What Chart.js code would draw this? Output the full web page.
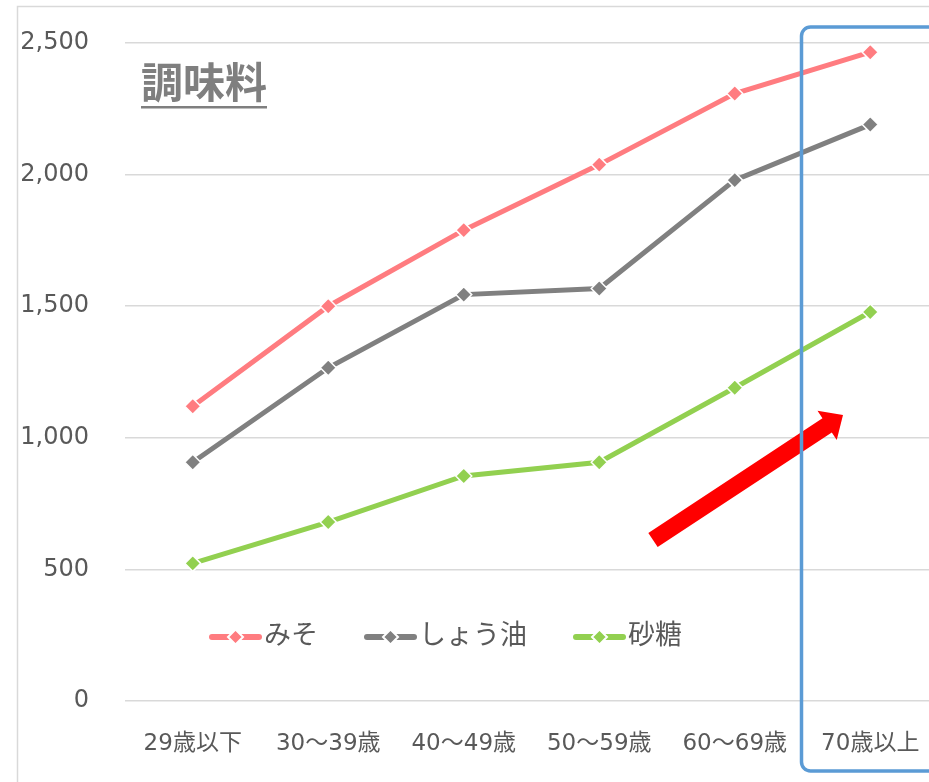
<!DOCTYPE html>
<html>
<head>
<meta charset="utf-8">
<script src="https://cdn.jsdelivr.net/npm/chart.js@4/dist/chart.umd.min.js"></script>
<style>
	html, body { margin: 0; padding: 0; background: #fff; overflow: hidden; }
	#wrap { width: 940px; height: 782px; }
</style>
</head>
<body>
<div id="wrap"><canvas id="chart" width="940" height="782"></canvas></div>
<script>
	var labels = ['29歳以下', '30～39歳', '40～49歳', '50～59歳', '60～69歳', '70歳以上'];
	var seriesNames = ['みそ', 'しょう油', '砂糖'];
	var miso = [1120, 1500, 1789, 2038, 2308, 2465];
	var shoyu = [907, 1266, 1544, 1567, 1979, 2190];
	var sugar = [523, 680, 855, 907, 1190, 1478];
	var colors = ['#FF7C80', '#808080', '#92D050'];
	var yTicks = [0, 500, 1000, 1500, 2000, 2500];

	var fontFamily = "'DejaVu Sans', 'Noto Sans CJK JP', sans-serif";
	var textColor = '#595959';

	function makeSet(name, values, color) {
		return {
			label: name,
			data: values,
			borderColor: color,
			backgroundColor: color,
			borderWidth: 5,
			tension: 0,
			clip: false,
			pointStyle: 'rectRot',
			pointRadius: 8,
			pointHoverRadius: 8,
			pointBackgroundColor: color,
			pointBorderColor: '#ffffff',
			pointBorderWidth: 1.5
		};
	}

	// frame, title, arrow, highlight box and legend
	var decorations = {
		id: 'decorations',
		beforeDraw: function(chart) {
			var c = chart.ctx;
			c.save();
			c.strokeStyle = '#d9d9d9';
			c.lineWidth = 1.5;
			c.beginPath();
			c.moveTo(17.5, 800);
			c.lineTo(17.5, 6.5);
			c.lineTo(960, 6.5);
			c.stroke();
			c.restore();
		},
		afterDraw: function(chart) {
			var c = chart.ctx;
			var x = chart.scales.x;

			// title
			c.save();
			c.fillStyle = '#7f7f7f';
			c.font = 'bold 42px ' + fontFamily;
			c.textBaseline = 'middle';
			c.textAlign = 'left';
			c.fillText('調味料', 141, 87);
			var tw = c.measureText('調味料').width;
			c.fillRect(141, 106, tw, 2.5);
			c.restore();

			// red arrow
			c.save();
			var x0 = 653, y0 = 540, x1 = 843, y1 = 415;
			var dx = x1 - x0, dy = y1 - y0;
			var len = Math.sqrt(dx * dx + dy * dy);
			var ux = dx / len, uy = dy / len, px = -uy, py = ux;
			var shaft = 8.5, head = 17.5, headLen = 19;
			var bx = x1 - ux * headLen, by = y1 - uy * headLen;
			c.fillStyle = '#ff0000';
			c.beginPath();
			c.moveTo(x0 + px * shaft, y0 + py * shaft);
			c.lineTo(bx + px * shaft, by + py * shaft);
			c.lineTo(bx + px * head, by + py * head);
			c.lineTo(x1, y1);
			c.lineTo(bx - px * head, by - py * head);
			c.lineTo(bx - px * shaft, by - py * shaft);
			c.lineTo(x0 - px * shaft, y0 - py * shaft);
			c.closePath();
			c.fill();
			c.restore();

			// blue box round the last category
			c.save();
			var half = (x.getPixelForValue(5) - x.getPixelForValue(4)) / 2;
			var left = x.getPixelForValue(5) - half - 1;
			c.strokeStyle = '#5B9BD5';
			c.lineWidth = 3.5;
			c.beginPath();
			c.roundRect(left, 27, 200, 744, 9);
			c.stroke();
			c.restore();

			// legend
			c.save();
			c.font = '27px ' + fontFamily;
			c.textBaseline = 'middle';
			c.textAlign = 'left';
			var lx = 209, ly = 637;
			chart.data.datasets.forEach(function(ds) {
				c.strokeStyle = ds.borderColor;
				c.lineWidth = 6;
				c.lineCap = 'round';
				c.beginPath();
				c.moveTo(lx + 3, ly);
				c.lineTo(lx + 50, ly);
				c.stroke();
				var cx = lx + 26.5;
				c.fillStyle = ds.borderColor;
				c.strokeStyle = '#ffffff';
				c.lineWidth = 2;
				c.beginPath();
				c.moveTo(cx, ly - 7.5);
				c.lineTo(cx + 7.5, ly);
				c.lineTo(cx, ly + 7.5);
				c.lineTo(cx - 7.5, ly);
				c.closePath();
				c.fill();
				c.stroke();
				c.fillStyle = textColor;
				c.fillText(ds.label, lx + 55, ly);
				lx = lx + 55 + c.measureText(ds.label).width + 46;
			});
			c.restore();
		}
	};

	var ctx = document.getElementById('chart');

	var chart = new Chart(ctx, {
		type: 'line',
		data: {
			labels: labels,
			datasets: [
				makeSet(seriesNames[0], miso, colors[0]),
				makeSet(seriesNames[1], shoyu, colors[1]),
				makeSet(seriesNames[2], sugar, colors[2])
			]
		},
		options: {
			responsive: false,
			animation: false,
			layout: { autoPadding: false, padding: { top: 43, right: 2, bottom: 0, left: 0 } },
			plugins: {
				legend: { display: false },
				tooltip: { enabled: false }
			},
			scales: {
				x: {
					offset: true,
					grid: { display: false, drawTicks: false },
					border: { display: false },
					ticks: {
						color: textColor,
						font: { family: fontFamily, size: 23 },
						padding: 29,
						maxRotation: 0,
						autoSkip: false
					},
					afterFit: function(scale) {
						scale.height = 81;
						scale.paddingLeft = 0;
						scale.paddingRight = 0;
					}
				},
				y: {
					min: 0,
					max: 2500,
					afterBuildTicks: function(scale) {
						scale.ticks = yTicks.map(function(v) { return { value: v }; });
					},
					grid: { color: '#d9d9d9', lineWidth: 1.5, drawTicks: false },
					border: { display: false },
					ticks: {
						color: textColor,
						font: { family: fontFamily, size: 24 },
						padding: 36,
						callback: function(v) { return v.toLocaleString('en-US'); }
					},
					afterFit: function(scale) {
						scale.width = 125;
						scale.paddingTop = 0;
						scale.paddingBottom = 0;
					}
				}
			}
		},
		plugins: [decorations]
	});
</script>
</body>
</html>
